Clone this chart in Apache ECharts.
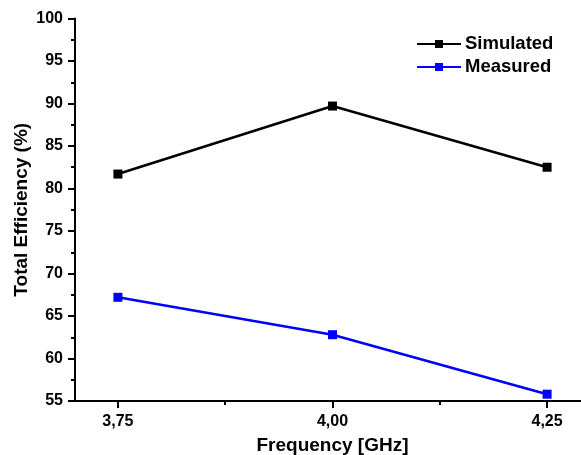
<!DOCTYPE html>
<html>
<head>
<meta charset="utf-8">
<script src="https://cdn.jsdelivr.net/npm/echarts@6/dist/echarts.min.js"></script>
<style>
  html, body { margin: 0; padding: 0; background: #fff; }
  #chart { width: 581px; height: 455px; }
</style>
</head>
<body>
<div id="chart"></div>
<script>
// Frequency points (GHz) and total efficiency (%) per series
const frequencies = [3.75, 4.00, 4.25];
const simulated = [81.7, 89.7, 82.5];
const measured = [67.2, 62.8, 55.8];
const majorTicks = [3.75, 4.00, 4.25];
const minorTicks = [3.875, 4.125];
const seriesNames = ['Simulated', 'Measured'];

const FONT = '"Liberation Sans", Arial, sans-serif';
const chart = echarts.init(document.getElementById('chart'), null, { renderer: 'canvas' });

const pairs = (xs, ys) => xs.map((x, i) => [x, ys[i]]);

chart.setOption({
  animation: false,
  backgroundColor: '#ffffff',
  grid: {
    left: 75, right: -9, top: 18.5, bottom: 54,
    containLabel: false,
    outerBoundsMode: 'none'
  },
  legend: {
    orient: 'vertical',
    left: 411,
    top: 29,
    itemWidth: 44,
    itemHeight: 10,
    itemGap: 3,
    data: seriesNames,
    textStyle: { fontFamily: FONT, fontWeight: 'bold', fontSize: 18.5, color: '#000', lineHeight: 20, padding: [0, 0, 0, -1] }
  },
  xAxis: [
    {
      type: 'value',
      min: 3.70,
      max: 4.30,
      position: 'bottom',
      name: 'Frequency [GHz]',
      nameLocation: 'middle',
      nameGap: 35,
      nameMoveOverlap: false,
      nameTextStyle: { fontFamily: FONT, fontWeight: 'bold', fontSize: 19, color: '#000' },
      axisLine: { lineStyle: { color: '#000', width: 2 } },
      axisTick: { inside: false, length: 7, customValues: majorTicks, lineStyle: { color: '#000', width: 2 } },
      axisLabel: {
        customValues: majorTicks,
        margin: 13,
        fontFamily: FONT, fontWeight: 'bold', fontSize: 16, color: '#000',
        formatter: v => v.toFixed(2).replace('.', ',')
      },
      splitLine: { show: false }
    },
    {
      type: 'value',
      min: 3.70,
      max: 4.30,
      position: 'bottom',
      axisLine: { show: false },
      axisTick: { show: true, inside: false, length: 4, customValues: minorTicks, lineStyle: { color: '#000', width: 2 } },
      axisLabel: { show: false },
      splitLine: { show: false }
    }
  ],
  yAxis: {
    type: 'value',
    min: 55,
    max: 100,
    interval: 5,
    name: 'Total Efficiency (%)',
    nameLocation: 'middle',
    nameGap: 44,
    nameMoveOverlap: false,
    nameTextStyle: { fontFamily: FONT, fontWeight: 'bold', fontSize: 19, color: '#000' },
    axisLine: { show: true, lineStyle: { color: '#000', width: 2 } },
    axisTick: { show: true, inside: false, length: 7, lineStyle: { color: '#000', width: 2 } },
    minorTick: { show: true, splitNumber: 2, length: 4, lineStyle: { color: '#000', width: 2 } },
    axisLabel: { margin: 12, fontFamily: FONT, fontWeight: 'bold', fontSize: 16, color: '#000' },
    splitLine: { show: false }
  },
  series: [
    {
      name: seriesNames[0],
      type: 'line',
      data: pairs(frequencies, simulated),
      symbol: 'rect',
      symbolSize: 9,
      color: '#000000',
      lineStyle: { color: '#000000', width: 2.5 },
      itemStyle: { color: '#000000' }
    },
    {
      name: seriesNames[1],
      type: 'line',
      data: pairs(frequencies, measured),
      symbol: 'rect',
      symbolSize: 9,
      color: '#0000ff',
      lineStyle: { color: '#0000ff', width: 2.5 },
      itemStyle: { color: '#0000ff' }
    }
  ]
});
</script>
</body>
</html>
